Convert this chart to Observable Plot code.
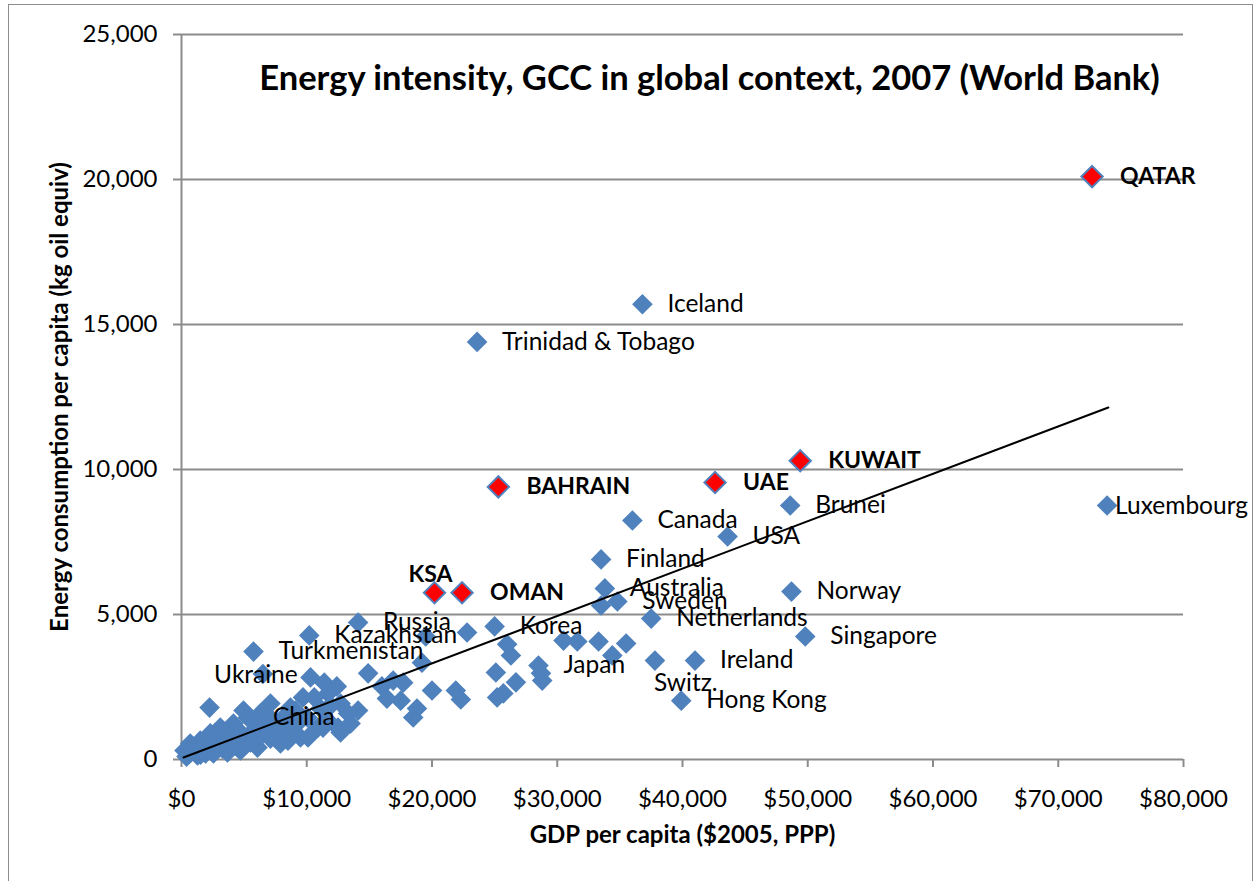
<!DOCTYPE html>
<html><head><meta charset="utf-8">
<script src="https://cdn.jsdelivr.net/npm/d3@7"></script>
<script src="https://cdn.jsdelivr.net/npm/@observablehq/plot@0.6"></script>
<style>
body{margin:0;background:#fff;}
#chart{position:absolute;left:0;top:0;}
#frame{position:absolute;left:8px;top:4px;width:1243px;height:900px;border:1.5px solid #8c8c8c;pointer-events:none;}
</style></head><body>
<div id="chart"></div><div id="frame"></div>
<script>
// ---- data ----
const titleText = "Energy intensity, GCC in global context, 2007 (World Bank)";
const xTitle = "GDP per capita ($2005, PPP)";
const yTitle = "Energy consumption per capita (kg oil equiv)";
const xTicks = [0, 10000, 20000, 30000, 40000, 50000, 60000, 70000, 80000];
const yTicks = [0, 5000, 10000, 15000, 20000, 25000];

const gccNames  = ["QATAR", "KUWAIT", "UAE", "BAHRAIN", "KSA", "OMAN"];
const gccGdp    = [72700, 49400, 42600, 25300, 20200, 22400];
const gccEnergy = [20100, 10300, 9550, 9400, 5750, 5750];

const labeledNames  = ["Iceland", "Trinidad & Tobago", "Brunei", "Luxembourg", "Canada", "USA", "Finland", "Australia", "Sweden", "Norway", "Netherlands", "Singapore", "Ireland", "Switz.", "Hong Kong", "Japan", "Korea", "Russia", "Kazakhstan", "Turkmenistan", "Ukraine", "China"];
const labeledGdp    = [36800, 23600, 48600, 73900, 36000, 43600, 33500, 33800, 34800, 48700, 37500, 49800, 41000, 37800, 39900, 28500, 25000, 14100, 10200, 5750, 6500, 5300];
const labeledEnergy = [15700, 14400, 8760, 8760, 8240, 7690, 6900, 5900, 5450, 5790, 4860, 4240, 3410, 3410, 2030, 3240, 4590, 4720, 4280, 3720, 2950, 1450];

const otherGdp = [19500, 19200, 22800, 26000, 26300, 25100, 26700, 25200, 25700, 28700, 28800, 30500, 31600, 33300, 35500, 34400, 33500, 20000, 21900, 22300, 18800, 18500, 17700, 17500,
  14900, 16000, 16900, 16400, 14100, 13300, 12700, 12500, 11300, 9500, 8500, 10300, 11400, 12400, 9700, 10600, 11700, 13500, 12700, 11700, 10900, 10100,
  7900, 7300, 6300, 4950, 7100, 4150, 3100, 2300, 1500, 700, 240, 400, 1280, 2550, 3670, 4700, 6070, 3670, 5270, 6550, 8460, 9260, 10060, 8140, 8700, 7660,
  2240, 9100, 720, 1120, 1920, 2710, 3270, 4310, 5510, 5910, 6710, 4550, 1920, 600, 1520, 2710, 3910, 2870, 7100, 11100, 11900,
  1700, 3000, 5000, 800, 2000, 3500, 4500, 5800, 6000, 7900];
const otherEnergy = [4240, 3340, 4380, 3970, 3590, 3000, 2660, 2140, 2280, 2970, 2720, 4100, 4070, 4070, 4000, 3590, 5310, 2380, 2380, 2070, 1760, 1450, 2650, 2030,
  2970, 2520, 2720, 2100, 1690, 1590, 1930, 1100, 1100, 760, 650, 2830, 2650, 2520, 2140, 2140, 2280, 1240, 930, 1340, 1100, 760,
  550, 1340, 1590, 1690, 1930, 1240, 1100, 900, 650, 550, 310, 100, 140, 210, 240, 310, 410, 650, 760, 900, 1000, 1240, 1450, 1450, 1790, 1000,
  1790, 1690, 240, 380, 480, 590, 380, 480, 590, 1070, 1280, 1000, 210, 180, 170, 380, 830, 830, 720, 1760, 1860,
  300, 500, 450, 330, 700, 900, 700, 800, 1200, 1200];

// linear trend line end points
const trendGdp = [160, 74000];
const trendEnergy = [70, 12140];

// ---- build tables ----
const others = otherGdp.map((g, i) => ({gdp: g, energy: otherEnergy[i]}));
const labeled = labeledNames.map((n, i) => ({name: n, gdp: labeledGdp[i], energy: labeledEnergy[i]}));
const gcc = gccNames.map((n, i) => ({name: n, gdp: gccGdp[i], energy: gccEnergy[i]}));
const trend = trendGdp.map((g, i) => ({gdp: g, energy: trendEnergy[i]}));

// ---- styling ----
const blue = "#4F81BD";
const gray = "#8c8c8c";
const font = "Lato, 'Open Sans', sans-serif";
const labelSize = 24.5;
const boldLabelSize = 23;
// label placement relative to marker (styling only)
const special = {
  "Ukraine": {dx: -7, dy: 1, textAnchor: "middle"},
  "Luxembourg": {dx: 8, dy: 1, textAnchor: "start"},
  "Switz.": {dx: -1, dy: 23, textAnchor: "start"},
  "KSA": {dx: -4, dy: -18, textAnchor: "middle"}
};

const labelMarks = [];
labelMarks.push(Plot.text(labeled.filter(d => !special[d.name]), {x: "gdp", y: "energy", text: "name", dx: 25, textAnchor: "start", fontSize: labelSize, fill: "black"}));
for (const d of labeled.filter(d => special[d.name])) {
  labelMarks.push(Plot.text([d], {x: "gdp", y: "energy", text: "name", ...special[d.name], fontSize: labelSize, fill: "black"}));
}
labelMarks.push(Plot.text(gcc.filter(d => !special[d.name]), {x: "gdp", y: "energy", text: "name", dx: 28, textAnchor: "start", fontSize: boldLabelSize, fontWeight: "bold", fill: "black"}));
for (const d of gcc.filter(d => special[d.name])) {
  labelMarks.push(Plot.text([d], {x: "gdp", y: "energy", text: "name", ...special[d.name], fontSize: boldLabelSize, fontWeight: "bold", fill: "black"}));
}

const chart = Plot.plot({
  width: 1255,
  height: 881,
  marginLeft: 181,
  marginRight: 72,
  marginTop: 34,
  marginBottom: 122,
  style: {fontFamily: font, background: "transparent", color: "black", overflow: "visible"},
  x: {domain: [0, 80000]},
  y: {domain: [0, 25000]},
  marks: [
    Plot.gridY(yTicks.filter(t => t > 0), {stroke: gray, strokeOpacity: 1, strokeWidth: 2}),
    Plot.ruleX([0], {stroke: gray, strokeWidth: 2}),
    Plot.ruleY([0], {stroke: gray, strokeWidth: 2}),
    Plot.axisY(yTicks, {tickSize: 8, tickPadding: 16, tickFormat: d3.format(","), stroke: gray, strokeWidth: 2, fill: "black", fontSize: 24, label: null}),
    Plot.axisX(xTicks, {tickSize: 8, tickPadding: 22, tickFormat: d => "$" + d3.format(",")(d), stroke: gray, strokeWidth: 2, fill: "black", fontSize: 24, label: null}),
    Plot.dot(others, {x: "gdp", y: "energy", symbol: "diamond2", r: 9.3, fill: blue, stroke: "none"}),
    Plot.dot(labeled, {x: "gdp", y: "energy", symbol: "diamond2", r: 9.3, fill: blue, stroke: "none"}),
    Plot.line(trend, {x: "gdp", y: "energy", stroke: "black", strokeWidth: 2}),
    Plot.dot(gcc, {x: "gdp", y: "energy", symbol: "diamond2", r: 9.6, fill: "#FF0000", stroke: blue, strokeWidth: 2}),
    ...labelMarks,
    Plot.text([titleText], {frameAnchor: "top", lineAnchor: "middle", dx: 27, dy: 44, fontSize: 34.5, fontWeight: "bold", fill: "black"}),
    Plot.text([xTitle], {frameAnchor: "bottom", lineAnchor: "middle", dy: 76, fontSize: 24, fontWeight: "bold", fill: "black"}),
    Plot.text([yTitle], {frameAnchor: "left", dx: -121, rotate: -90, textAnchor: "middle", fontSize: 24, fontWeight: "bold", fill: "black"})
  ]
});
document.getElementById("chart").appendChild(chart);
</script>
</body></html>
